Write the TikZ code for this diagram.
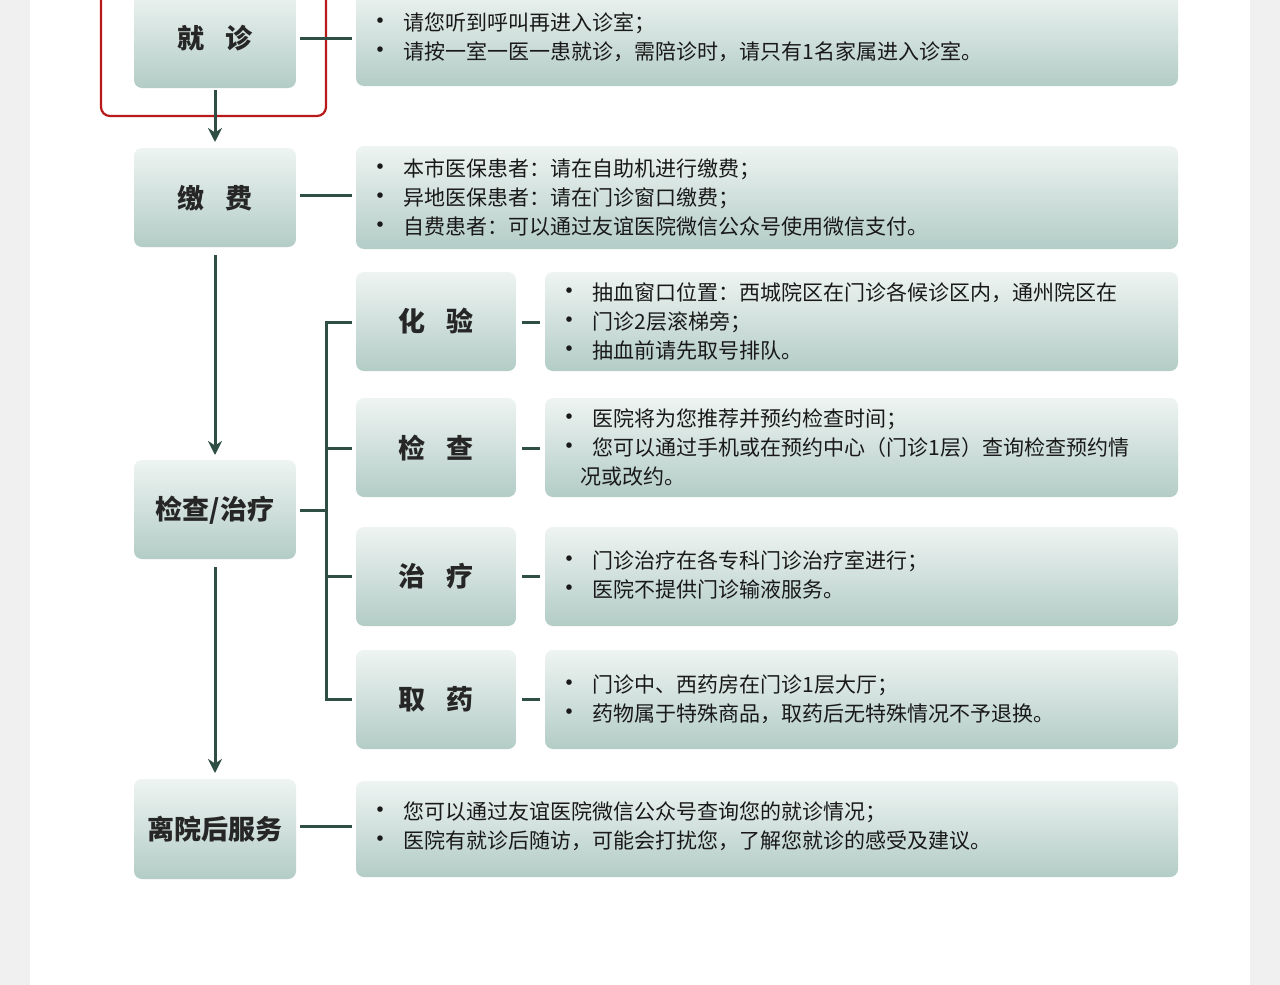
\documentclass[tikz,border=0pt]{standalone}
\usepackage{fontspec}
\setmainfont{Noto Sans CJK SC}
\usetikzlibrary{arrows.meta}
\definecolor{ln}{HTML}{2F4F44}
\definecolor{btop}{HTML}{EEF4F2}
\definecolor{bbot}{HTML}{B3CCC6}
\tikzset{
 box/.style={rounded corners=8pt, top color=btop, bottom color=bbot, draw=none},
 lbl/.style={font=\fontsize{27}{30}\selectfont\bfseries, text=black!85},
 txt/.style={anchor=west, align=left, font=\fontsize{21}{29}\selectfont, text=black!90},
 con/.style={draw=ln, line width=3pt},
 arr/.style={draw=ln, line width=3pt, -{Stealth[length=14pt,width=14pt]}}
}
\newcommand{\bl}{{\fontsize{26}{29}\selectfont\textbullet}\hspace{10pt}}
\begin{document}
\begin{tikzpicture}[x=1pt,y=-1pt]
\fill[gray!12] (0,0) rectangle (1280,985);
\fill[white] (30,0) rectangle (1250,985);
\useasboundingbox (0,0) rectangle (1280,985);
% main column
\path[box] (134,-10) rectangle (296,88);
\node[lbl] (jz) at (215,38) {就\hspace{22pt}诊};
\draw[red!70!black!90, line width=2.2pt, rounded corners=9pt] (101,-10) rectangle (326,116);
\path[box] (356,-10) rectangle (1178,86);
\node[txt] (t1) at (364,37) {\bl 请您听到呼叫再进入诊室；\\ \bl 请按一室一医一患就诊，需陪诊时，请只有1名家属进入诊室。};

\path[box] (134,148) rectangle (296,247);
\node[lbl] (jf) at (215,198) {缴\hspace{22pt}费};
\path[box] (356,146) rectangle (1178,249);
\node[txt] (t2) at (364,197) {\bl 本市医保患者：请在自助机进行缴费；\\ \bl 异地医保患者：请在门诊窗口缴费；\\ \bl 自费患者：可以通过友谊医院微信公众号使用微信支付。};

\path[box] (134,460) rectangle (296,559);
\node[lbl] (jc) at (215,510) {检查/治疗};

\path[box] (134,779) rectangle (296,879);
\node[lbl] (ly) at (215,829) {离院后服务};
\path[box] (356,781) rectangle (1178,877);
\node[txt] (t8) at (364,826) {\bl 您可以通过友谊医院微信公众号查询您的就诊情况；\\ \bl 医院有就诊后随访，可能会打扰您，了解您就诊的感受及建议。};

% sub column
\path[box] (356,272) rectangle (516,371);
\node[lbl] (hy) at (436,321) {化\hspace{22pt}验};
\path[box] (545,272) rectangle (1178,371);
\node[txt] (t3) at (553,321) {\bl 抽血窗口位置：西城院区在门诊各候诊区内，通州院区在\\ \bl 门诊2层滚梯旁；\\ \bl 抽血前请先取号排队。};

\path[box] (356,398) rectangle (516,497);
\node[lbl] (jc2) at (436,448) {检\hspace{22pt}查};
\path[box] (545,398) rectangle (1178,497);
\node[txt] (t4) at (553,447) {\bl 医院将为您推荐并预约检查时间；\\ \bl 您可以通过手机或在预约中心（门诊1层）查询检查预约情\\ \hspace{24pt}况或改约。};

\path[box] (356,527) rectangle (516,626);
\node[lbl] (zl) at (436,576) {治\hspace{22pt}疗};
\path[box] (545,527) rectangle (1178,626);
\node[txt] (t5) at (553,575) {\bl 门诊治疗在各专科门诊治疗室进行；\\ \bl 医院不提供门诊输液服务。};

\path[box] (356,650) rectangle (516,749);
\node[lbl] (qy) at (436,699) {取\hspace{22pt}药};
\path[box] (545,650) rectangle (1178,749);
\node[txt] (t6) at (553,699) {\bl 门诊中、西药房在门诊1层大厅；\\ \bl 药物属于特殊商品，取药后无特殊情况不予退换。};

% connectors
\coordinate (a1) at (215,90); \coordinate (a2) at (215,142);
\draw[arr] (a1) -- (a2);
\coordinate (b1) at (215,255); \coordinate (b2) at (215,455);
\draw[arr] (b1) -- (b2);
\coordinate (c1) at (215,567); \coordinate (c2) at (215,773);
\draw[arr] (c1) -- (c2);
\draw[con] (300,38) -- (352,38);
\draw[con] (300,195) -- (352,195);
\draw[con] (300,826) -- (352,826);
\draw[con] (300,510) -- (326,510);
\draw[con] (352,322) -- (326,322) -- (326,699) -- (352,699);
\draw[con] (326,448) -- (352,448);
\draw[con] (326,576) -- (352,576);
\foreach \y in {322,448,576,699} \draw[con] (522,\y) -- (540,\y);
\end{tikzpicture}
\end{document}
